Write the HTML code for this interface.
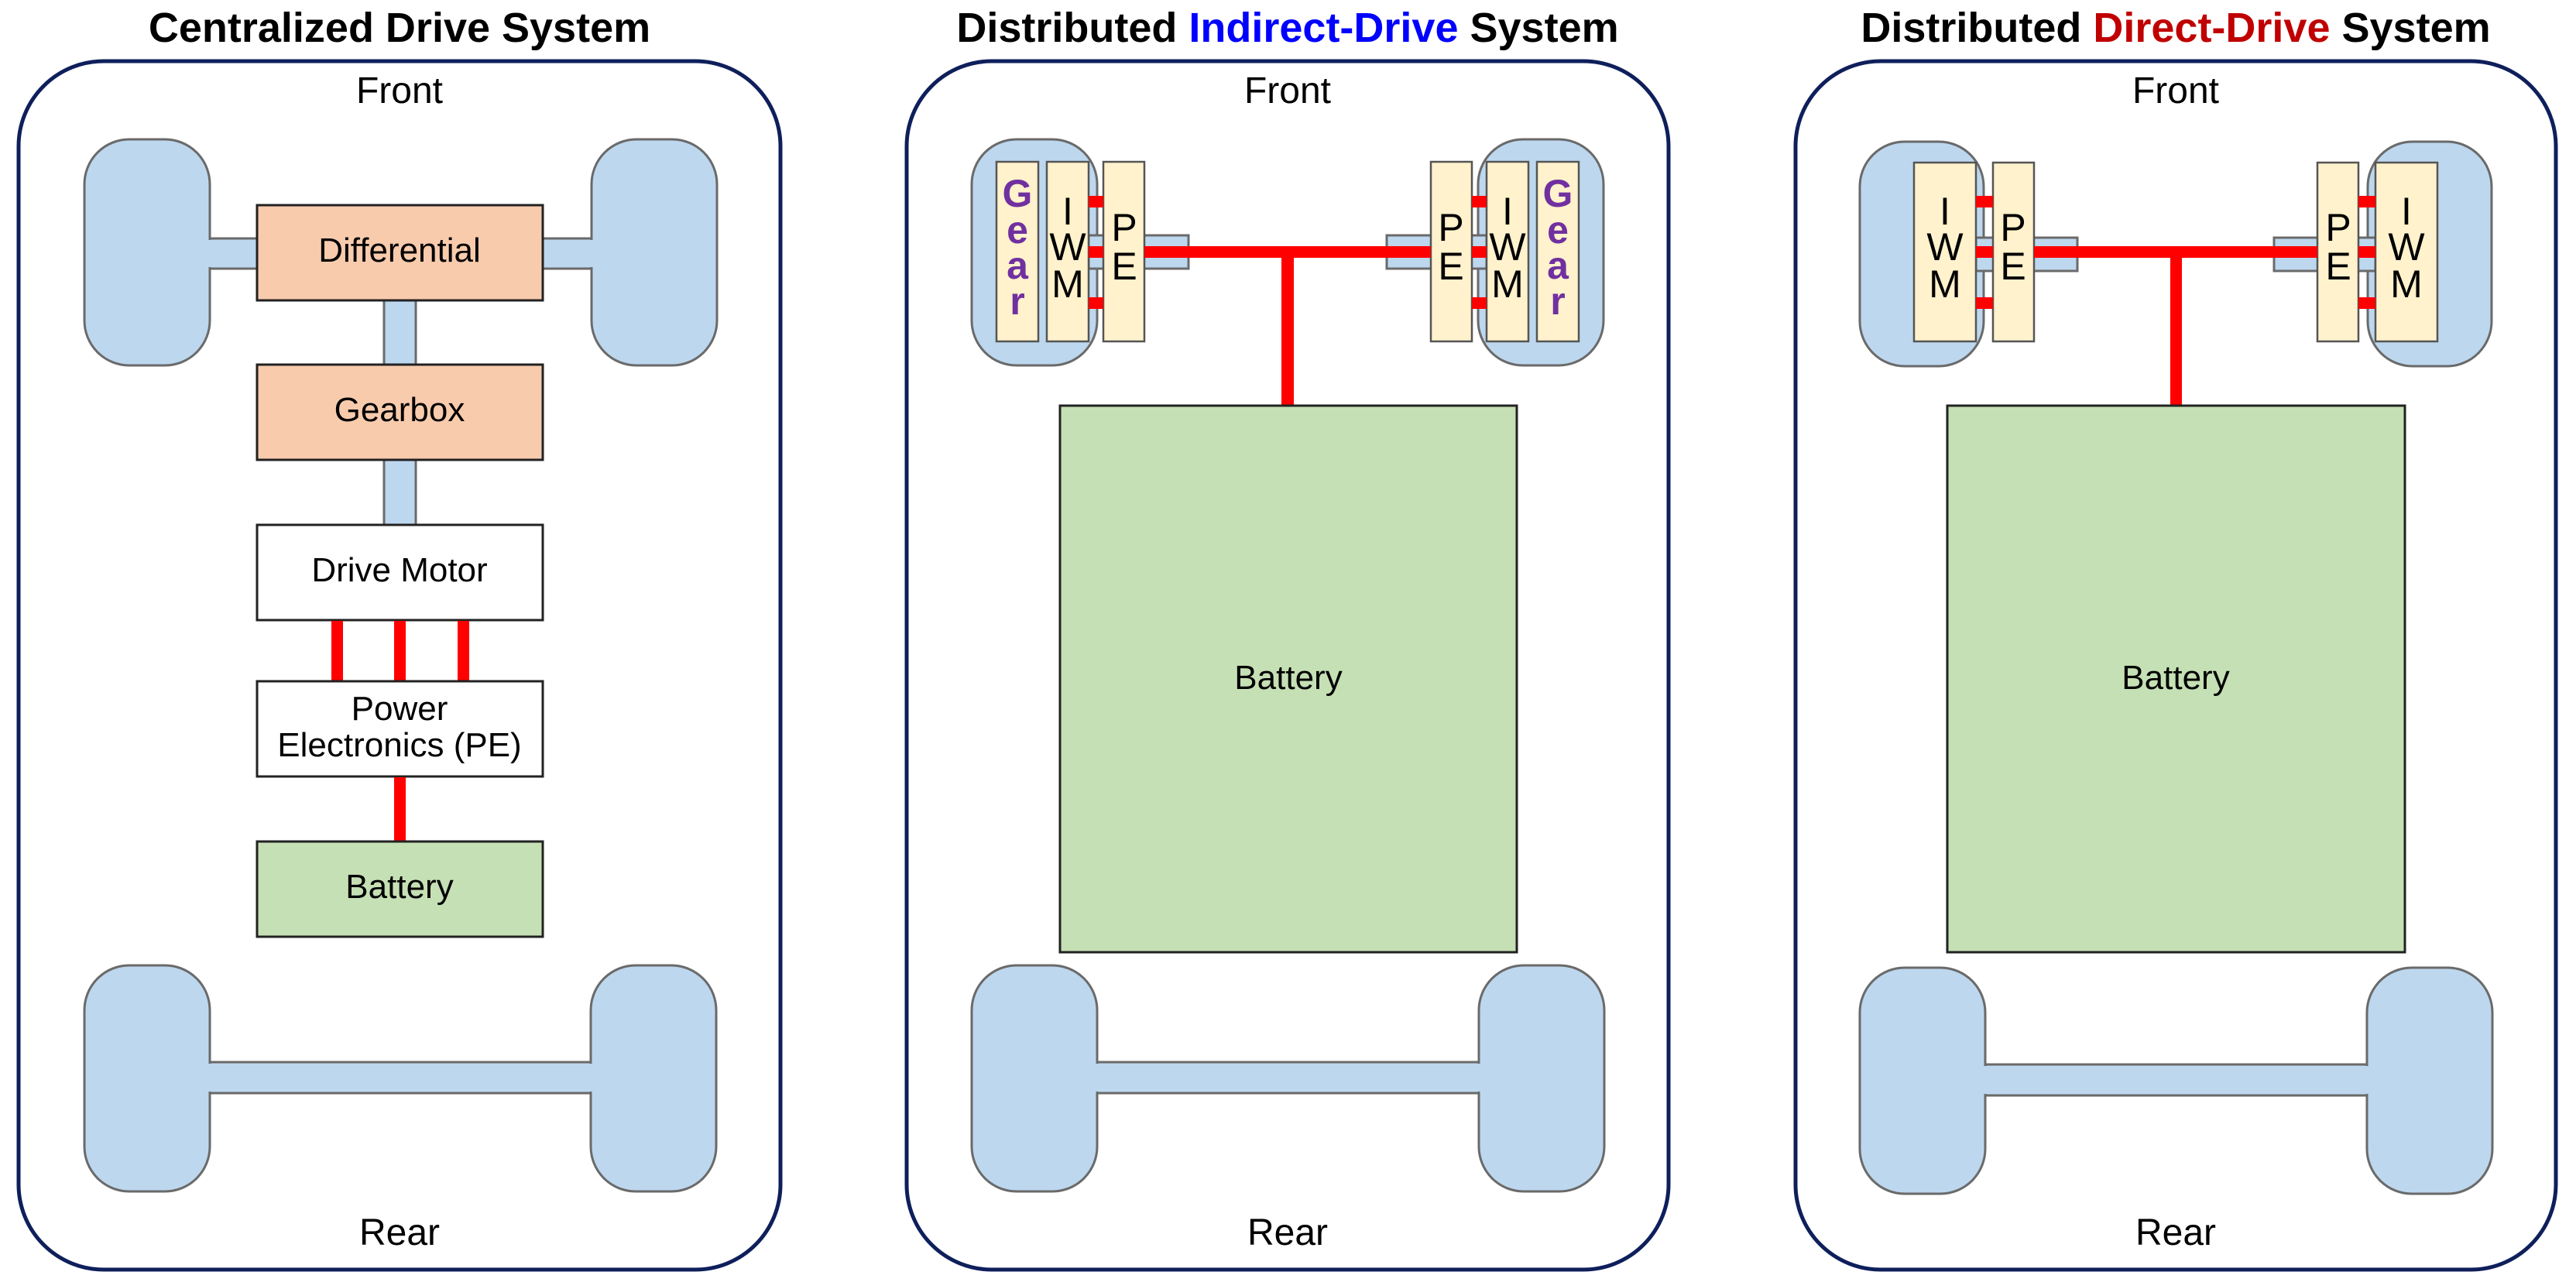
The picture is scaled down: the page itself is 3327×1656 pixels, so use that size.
<!DOCTYPE html>
<html><head><meta charset="utf-8"><style>
html,body{margin:0;padding:0;background:#fff;}
svg{display:block;}
text{font-family:"Liberation Sans",Arial,sans-serif;}
</style></head><body>
<svg width="3327" height="1656" viewBox="0 0 3327 1656" xmlns="http://www.w3.org/2000/svg">
<defs>
<style>
.w{fill:#BDD7EE;stroke:#6a6a6a;stroke-width:3;}
.wf{fill:#BDD7EE;}
.bx{stroke:#222;stroke-width:3;}
.cr{fill:#FFF2CC;stroke:#555;stroke-width:2.5;}
.rd{fill:#FF0000;}
.pn{fill:#fff;stroke:#0E1F5B;stroke-width:5;}
.t{font-size:44px;fill:#000;text-anchor:middle;}
.fr{font-size:48px;fill:#000;text-anchor:middle;}
.ti{font-size:54px;font-weight:bold;fill:#000;text-anchor:middle;}
.g{font-size:50px;font-weight:bold;fill:#7030A0;text-anchor:middle;}
.l{font-size:50px;fill:#000;text-anchor:middle;}
</style>
</defs>

<text class="ti" x="516" y="54">Centralized Drive System</text>
<text class="ti" x="1663" y="54">Distributed <tspan fill="#0000FF">Indirect-Drive</tspan> System</text>
<text class="ti" x="2810" y="54">Distributed <tspan fill="#C00000">Direct-Drive</tspan> System</text>

<rect class="pn" x="24" y="79" width="984" height="1561" rx="110" ry="110"/>
<rect class="pn" x="1171" y="79" width="984" height="1561" rx="110" ry="110"/>
<rect class="pn" x="2319" y="79" width="982" height="1561" rx="110" ry="110"/>

<text class="fr" x="516" y="133">Front</text>
<text class="fr" x="1663" y="133">Front</text>
<text class="fr" x="2810" y="133">Front</text>
<text class="fr" x="516" y="1608">Rear</text>
<text class="fr" x="1663" y="1608">Rear</text>
<text class="fr" x="2810" y="1608">Rear</text>

<!-- ===== Panel 1 ===== -->
<rect class="w" x="260" y="308" width="80" height="39"/>
<rect class="w" x="692" y="308" width="80" height="39"/>
<rect class="w" x="109" y="180" width="162" height="292" rx="58"/>
<rect class="w" x="764" y="180" width="162" height="292" rx="58"/>
<rect class="wf" x="265" y="310" width="20" height="35"/>
<rect class="wf" x="750" y="310" width="20" height="35"/>
<rect class="w" x="496" y="380" width="41" height="100"/>
<rect class="w" x="496" y="585" width="41" height="100"/>
<rect class="bx" fill="#F8CBAD" x="332" y="265" width="369" height="123"/>
<rect class="bx" fill="#F8CBAD" x="332" y="471" width="369" height="123"/>
<rect class="bx" fill="#fff" x="332" y="678" width="369" height="123"/>
<rect class="rd" x="428" y="802" width="15" height="78"/>
<rect class="rd" x="509" y="802" width="15" height="78"/>
<rect class="rd" x="591" y="802" width="15" height="78"/>
<rect class="bx" fill="#fff" x="332" y="880" width="369" height="123"/>
<rect class="rd" x="509" y="1004" width="15" height="83"/>
<rect class="bx" fill="#C5E0B4" x="332" y="1087" width="369" height="123"/>
<text class="t" x="516" y="338">Differential</text>
<text class="t" x="516" y="544">Gearbox</text>
<text class="t" x="516" y="751">Drive Motor</text>
<text class="t" x="516" y="930">Power</text>
<text class="t" x="516" y="977">Electronics (PE)</text>
<text class="t" x="516" y="1160">Battery</text>
<rect class="w" x="265" y="1372" width="504" height="40"/>
<rect class="w" x="109" y="1247" width="162" height="292" rx="58"/>
<rect class="w" x="763" y="1247" width="162" height="292" rx="58"/>
<rect class="wf" x="268" y="1374" width="498" height="36"/>

<!-- ===== Panel 2 ===== -->
<rect class="w" x="1412" y="1372" width="503" height="40"/>
<rect class="w" x="1255" y="1247" width="162" height="292" rx="58"/>
<rect class="w" x="1910" y="1247" width="162" height="292" rx="58"/>
<rect class="wf" x="1410" y="1374" width="507" height="36"/>

<rect class="w" x="1255" y="180" width="162" height="292" rx="58"/>
<rect class="w" x="1909" y="180" width="162" height="292" rx="58"/>
<rect class="w" x="1406" y="304" width="129" height="43"/>
<rect class="w" x="1791" y="304" width="129" height="43"/>
<rect class="cr" x="1287" y="209" width="54" height="232"/>
<rect class="cr" x="1352" y="209" width="54" height="232"/>
<rect class="cr" x="1425" y="209" width="53" height="232"/>
<rect class="cr" x="1985" y="209" width="54" height="232"/>
<rect class="cr" x="1920" y="209" width="54" height="232"/>
<rect class="cr" x="1848" y="209" width="53" height="232"/>
<rect class="rd" x="1406" y="253" width="19" height="15"/>
<rect class="rd" x="1406" y="318" width="19" height="15"/>
<rect class="rd" x="1406" y="384" width="19" height="15"/>
<rect class="rd" x="1901" y="253" width="19" height="15"/>
<rect class="rd" x="1901" y="318" width="19" height="15"/>
<rect class="rd" x="1901" y="384" width="19" height="15"/>
<rect class="rd" x="1478" y="318" width="370" height="15"/>
<rect class="rd" x="1655" y="330" width="16" height="194"/>
<rect class="bx" fill="#C5E0B4" x="1369" y="524" width="590" height="706"/>
<text class="t" x="1664" y="890">Battery</text>
<g class="g"><text x="1314" y="267">G</text><text x="1314" y="314">e</text><text x="1314" y="360">a</text><text x="1314" y="406">r</text></g>
<g class="g"><text x="2012" y="267">G</text><text x="2012" y="314">e</text><text x="2012" y="360">a</text><text x="2012" y="406">r</text></g>
<g class="l"><text x="1379" y="290">I</text><text x="1379" y="336">W</text><text x="1379" y="384">M</text></g>
<g class="l"><text x="1947" y="290">I</text><text x="1947" y="336">W</text><text x="1947" y="384">M</text></g>
<g class="l"><text x="1452" y="311">P</text><text x="1452" y="361">E</text></g>
<g class="l"><text x="1874" y="311">P</text><text x="1874" y="361">E</text></g>

<!-- ===== Panel 3 ===== -->
<rect class="w" x="2559" y="1375" width="503" height="40"/>
<rect class="w" x="2402" y="1250" width="162" height="292" rx="58"/>
<rect class="w" x="3057" y="1250" width="162" height="292" rx="58"/>
<rect class="wf" x="2557" y="1377" width="507" height="36"/>

<rect class="w" x="2402" y="183" width="160" height="290" rx="58"/>
<rect class="w" x="3058" y="183" width="160" height="290" rx="58"/>
<rect class="w" x="2552" y="307" width="131" height="43"/>
<rect class="w" x="2937" y="307" width="131" height="43"/>
<rect class="cr" x="2472" y="210" width="80" height="231"/>
<rect class="cr" x="2574" y="210" width="53" height="231"/>
<rect class="cr" x="3068" y="210" width="80" height="231"/>
<rect class="cr" x="2993" y="210" width="53" height="231"/>
<rect class="rd" x="2552" y="253" width="22" height="15"/>
<rect class="rd" x="2552" y="318" width="22" height="15"/>
<rect class="rd" x="2552" y="384" width="22" height="15"/>
<rect class="rd" x="3046" y="253" width="22" height="15"/>
<rect class="rd" x="3046" y="318" width="22" height="15"/>
<rect class="rd" x="3046" y="384" width="22" height="15"/>
<rect class="rd" x="2627" y="318" width="366" height="15"/>
<rect class="rd" x="2803" y="330" width="15" height="194"/>
<rect class="bx" fill="#C5E0B4" x="2515" y="524" width="591" height="706"/>
<text class="t" x="2810" y="890">Battery</text>
<g class="l"><text x="2512" y="290">I</text><text x="2512" y="336">W</text><text x="2512" y="384">M</text></g>
<g class="l"><text x="3108" y="290">I</text><text x="3108" y="336">W</text><text x="3108" y="384">M</text></g>
<g class="l"><text x="2600" y="311">P</text><text x="2600" y="361">E</text></g>
<g class="l"><text x="3020" y="311">P</text><text x="3020" y="361">E</text></g>
</svg>
</body></html>
